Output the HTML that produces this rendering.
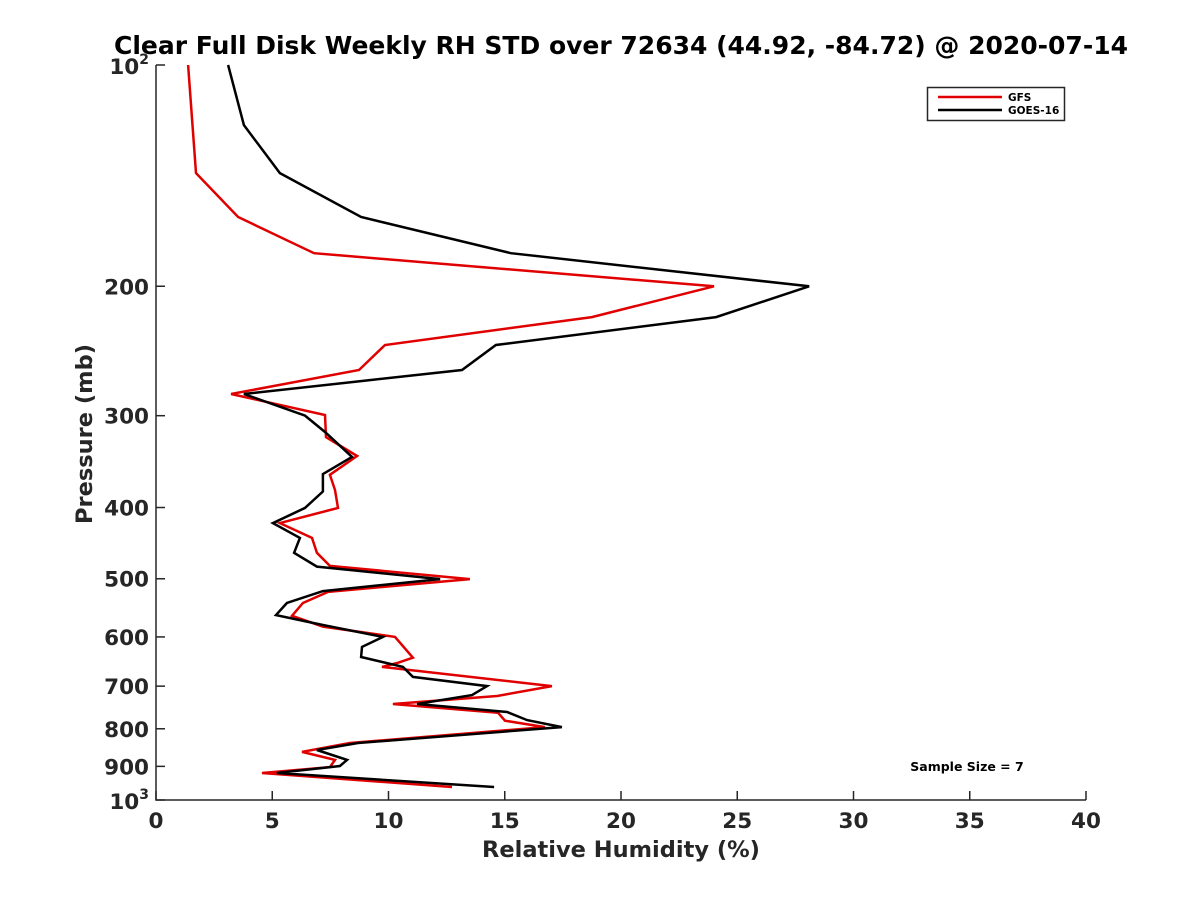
<!DOCTYPE html>
<html><head><meta charset="utf-8"><style>
body{margin:0;background:#fff;}
svg text{font-family:"DejaVu Sans","Liberation Sans",sans-serif;font-weight:bold;fill:#262626;}
</style></head><body>
<svg id="chart" width="1200" height="900" xmlns="http://www.w3.org/2000/svg">
<rect width="1200" height="900" fill="#fff"/>
<g id="axes"></g>
<g id="series"></g>
<text x="621" y="54" text-anchor="middle" font-size="25" style="fill:#000">Clear Full Disk Weekly RH STD over 72634 (44.92, -84.72) @ 2020-07-14</text>
<text x="621" y="857" text-anchor="middle" font-size="22.5">Relative Humidity (%)</text>
<text transform="translate(92,434) rotate(-90)" text-anchor="middle" font-size="22.5">Pressure (mb)</text>
<text x="967" y="771" text-anchor="middle" font-size="12.5" style="fill:#000">Sample Size = 7</text>
<g>
<rect x="927.5" y="87.5" width="137" height="33" fill="#fff" stroke="#262626" stroke-width="1.5"/>
<line x1="938" y1="97" x2="1002" y2="97" stroke="#e00000" stroke-width="2.5"/>
<text x="1008" y="101" font-size="10.5" style="fill:#000">GFS</text>
<line x1="938" y1="110" x2="1002" y2="110" stroke="#000" stroke-width="2.5"/>
<text x="1008" y="114" font-size="10.5" style="fill:#000">GOES-16</text>
</g>
</svg>
<script>
const xTicks=[0,5,10,15,20,25,30,35,40];
const yTicks=[200,300,400,500,600,700,800,900];
const gfsPressure=[100,140.3,161,180.3,200,220.3,240.4,260,280.3,299.4,320.8,340.4,361,378.6,400.5,420,440,461,480.3,500.5,521,539.5,561.6,580.8,600,640.4,651,659,700,722,740.3,760.7,780,795.7,836.5,860,882,902,919,960];
const gfsRH=[1.38,1.72,3.53,6.8,24.0,18.75,9.85,8.73,3.23,7.27,7.31,8.65,7.48,7.7,7.83,5.33,6.71,6.92,7.48,13.5,7.4,6.32,5.85,7.18,10.28,11.05,10.37,9.72,17.03,14.67,10.19,14.71,15.01,16.73,8.34,6.28,7.7,7.48,4.56,12.73];
const goesPressure=[100,120.7,140.3,161,180.3,200,220.3,240.4,260,280.3,299.9,315.7,341.4,360.2,380.4,400.5,420,440,461,481.4,500.5,519.7,539.5,560.3,578,600,619,639,659,680,700,720,740.3,759,778.5,795.7,836.5,855,882,899,919,960];
const goesRH=[3.1,3.78,5.33,8.82,15.27,28.09,24.09,14.62,13.16,3.78,6.41,7.27,8.43,7.18,7.18,6.41,5.03,6.19,5.94,6.92,12.22,7.18,5.63,5.16,7.18,9.76,8.86,8.82,10.62,11.05,14.24,13.59,11.23,15.1,15.96,17.46,8.69,6.92,8.22,7.91,5.2,14.54];
const X0=156,X1=1086,Y0=65,Y1=800;
const xs=v=>X0+(v-0)/40*(X1-X0);
const ys=p=>Y0+Math.log10(p/100)*(Y1-Y0);
const NS='http://www.w3.org/2000/svg';
const axes=document.getElementById('axes'),series=document.getElementById('series');
function mk(tag,attrs,parent){const e=document.createElementNS(NS,tag);for(const k in attrs)e.setAttribute(k,attrs[k]);parent.appendChild(e);return e;}
let a=mk('path',{d:`M${X0},${Y0}V${Y1}H${X1}`,fill:'none',stroke:'#262626','stroke-width':1.5},axes);


xTicks.forEach(v=>{const x=xs(v);
 const t=mk('line',{x1:x,y1:Y1,x2:x,y2:Y1-9,stroke:'#262626','stroke-width':1.5},axes);
 
 
 const l=mk('text',{x:x,y:Y1+28,'text-anchor':'middle','font-size':21.5},axes);l.textContent=v;
 
 
});
[100,1000].concat(yTicks).forEach(p=>{const y=ys(p);
 const t=mk('line',{x1:X0,y1:y,x2:X0+9,y2:y,stroke:'#262626','stroke-width':1.5},axes);
 
 
});
yTicks.forEach(p=>{const l=mk('text',{x:X0-7,y:ys(p)+8,'text-anchor':'end','font-size':21.5},axes);l.textContent=p;
 
 
});
[[100,'2'],[1000,'3']].forEach(([p,e])=>{const l=mk('text',{x:X0-7,y:ys(p)+9,'text-anchor':'end','font-size':21.5},axes);
 l.innerHTML='10<tspan font-size="14" dy="-10">'+e+'</tspan>';
 
 
});
function line(P,V,color,name){const d=P.map((p,i)=>(i?'L':'M')+xs(V[i]).toFixed(1)+','+ys(p).toFixed(1)).join('');
 const e=mk('path',{d:d,fill:'none',stroke:color,'stroke-width':2.5,'stroke-linejoin':'miter'},series);
 
 
}
line(gfsPressure,gfsRH,'#e00000','gfs-line');
line(goesPressure,goesRH,'#000000','goes16-line');
</script>
</body></html>
